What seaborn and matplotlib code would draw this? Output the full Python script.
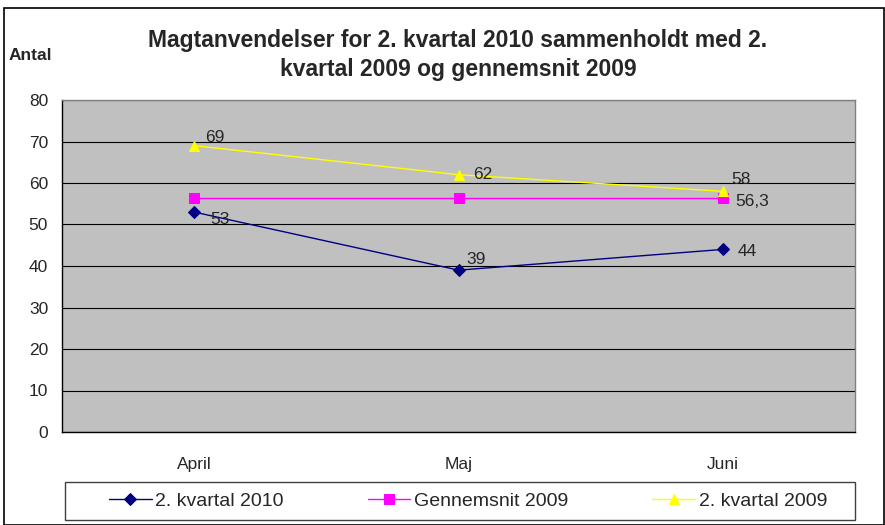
import numpy as np
import pandas as pd
import matplotlib
matplotlib.use("Agg")
import matplotlib.pyplot as plt
import seaborn as sns
from matplotlib.patches import Rectangle

months = ["April", "Maj", "Juni"]
kv2010 = [53, 39, 44]
gns2009 = [56.3, 56.3, 56.3]
kv2009 = [69, 62, 58]
labels_2010 = ["53", "39", "44"]
labels_gns = ["", "", "56,3"]
labels_2009 = ["69", "62", "58"]

sns.set_style("white")
plt.rcParams["font.family"] = ["Liberation Sans", "DejaVu Sans"]

df = pd.DataFrame({
    "month": months * 3,
    "x": list(range(3)) * 3,
    "value": kv2010 + gns2009 + kv2009,
    "series": ["2. kvartal 2010"] * 3 + ["Gennemsnit 2009"] * 3 + ["2. kvartal 2009"] * 3,
})

fig = plt.figure(figsize=(8.85, 5.25), dpi=100)
ax = fig.add_axes([62 / 885, 1 - 432 / 525, 793 / 885, 332 / 525])
ax.set_facecolor("#C0C0C0")

palette = {"2. kvartal 2010": "#000080", "Gennemsnit 2009": "#FF00FF", "2. kvartal 2009": "#FFFF00"}
markers = {"2. kvartal 2010": "D", "Gennemsnit 2009": "s", "2. kvartal 2009": "^"}
msize = {"2. kvartal 2010": 6, "Gennemsnit 2009": 6.5, "2. kvartal 2009": 7.5}
for s in ["2. kvartal 2010", "Gennemsnit 2009", "2. kvartal 2009"]:
    d = df[df["series"] == s]
    sns.lineplot(data=d, x="x", y="value", color=palette[s], marker=markers[s],
                 markersize=msize[s], markeredgecolor=palette[s], linewidth=1, ax=ax,
                 label=s, zorder=3)

# label offsets in pixels, as in the Excel original
off_2010 = [(16, -7), (8, 11), (15, -2)]
off_2009 = [(11, 8), (15, 0), (8, 12)]
for i in range(3):
    ax.annotate(labels_2010[i], (i, kv2010[i]), xytext=off_2010[i],
                textcoords="offset pixels", fontsize=12.5, va="center", ha="left")
    ax.annotate(labels_2009[i], (i, kv2009[i]), xytext=off_2009[i],
                textcoords="offset pixels", fontsize=12.5, va="center", ha="left")
    if labels_gns[i]:
        ax.annotate(labels_gns[i], (i, gns2009[i]), xytext=(12, -3),
                    textcoords="offset pixels", fontsize=12.5, va="center", ha="left")

ax.set_xlim(-0.5, 2.5)
ax.set_ylim(0, 80)
ax.set_yticks(range(0, 81, 10))
ax.set_xticks(range(3))
ax.set_xticklabels(months)
ax.set_xticks([-0.5, 0.5, 1.5, 2.5], minor=True)
ax.tick_params(axis="x", which="major", length=0, pad=18, labelsize=12.5)
ax.tick_params(axis="x", which="minor", length=6, direction="out", color="black")
ax.tick_params(axis="y", length=6, direction="out", color="black", labelsize=12.5, pad=4)
ax.yaxis.grid(True, color="black", linewidth=0.8)
ax.set_axisbelow(True)
ax.set_xlabel("")
ax.set_ylabel("")
for side in ["top", "right"]:
    ax.spines[side].set_color("#808080")
    ax.spines[side].set_linewidth(1)
for side in ["left", "bottom"]:
    ax.spines[side].set_color("black")
    ax.spines[side].set_linewidth(1)

ax.legend_.remove()
handles, labs = ax.get_legend_handles_labels()
leg = fig.legend(handles, labs, loc="center",
                 bbox_to_anchor=(102 / 885, 1 - 520 / 525, 732 / 885, 38 / 525), mode="expand",
                 ncol=3, frameon=False, fontsize=14,
                 handlelength=2.2, columnspacing=4, borderpad=0.35, handletextpad=0.2,
                 borderaxespad=0)
# legend box as in the original
fig.patches.append(Rectangle((65 / 885, 1 - 520 / 525), 790 / 885, 38 / 525, transform=fig.transFigure,
                             fill=False, edgecolor="#404040", linewidth=1))

fig.text(458 / 885, 1 - 55 / 525, "Magtanvendelser for 2. kvartal 2010 sammenholdt med 2.\nkvartal 2009 og gennemsnit 2009",
         ha="center", va="center", fontsize=16.5, fontweight="bold", linespacing=1.35)
fig.text(9 / 885, 1 - 55 / 525, "Antal", ha="left", va="center", fontsize=12.5, fontweight="bold")

fig.patches.append(Rectangle((4 / 885, 0), 880 / 885, 1 - 8 / 525, transform=fig.transFigure,
                             fill=False, edgecolor="black", linewidth=1.2))

fig.savefig("out.png", dpi=100)
